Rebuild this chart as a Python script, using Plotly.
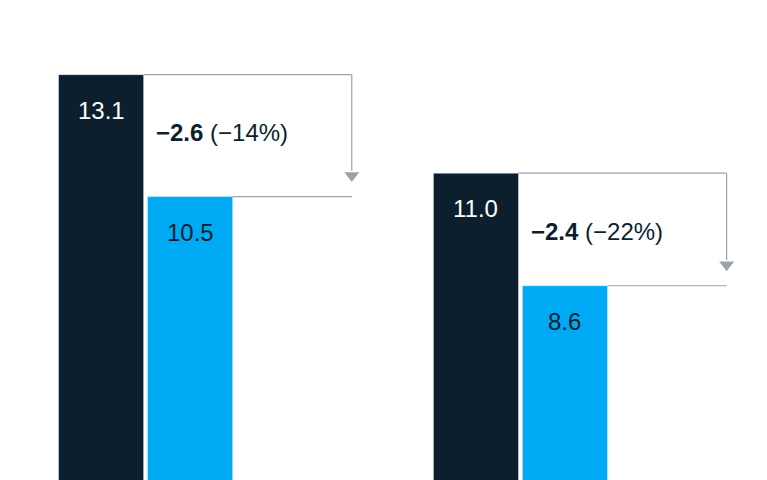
import plotly.graph_objects as go

groups = [0, 1]
before = [13.1, 11.0]
after = [10.5, 8.6]
delta = ["−2.6", "−2.4"]
pct = ["(−14%)", "(−22%)"]

DARK = "#0b1f2e"
BLUE = "#00a9f4"
GRAY = "#9aa3ad"
W = 0.227
OFF = 0.1187

fig = go.Figure()
fig.add_bar(x=[g - OFF for g in groups], y=before, width=W, marker_color=DARK, showlegend=False)
fig.add_bar(x=[g + OFF for g in groups], y=after, width=W, marker_color=BLUE, showlegend=False)

shapes, anns = [], []
for g, b, a, d, p in zip(groups, before, after, delta, pct):
    xr = g + 0.55
    shapes.append(dict(type="line", x0=g - OFF + W / 2, x1=xr, y0=b, y1=b, line=dict(color=GRAY, width=1.2)))
    shapes.append(dict(type="line", x0=g + OFF + W / 2, x1=xr, y0=a, y1=a, line=dict(color=GRAY, width=1.2)))
    shapes.append(dict(type="line", x0=xr, x1=xr, y0=b, y1=a + 0.55, line=dict(color=GRAY, width=1.2)))
    anns.append(dict(x=g - OFF, y=b, text=f"{b:.1f}", showarrow=False, yanchor="top", yshift=-20,
                     font=dict(color="white", size=24)))
    anns.append(dict(x=g + OFF, y=a, text=f"{a:.1f}", showarrow=False, yanchor="top", yshift=-20,
                     font=dict(color=DARK, size=24)))
    anns.append(dict(x=g + 0.023, y=b - 1.24, text=f"<b>{d}</b> {p}", showarrow=False,
                     xanchor="left", yanchor="middle", font=dict(color=DARK, size=24)))
fig.add_scatter(x=[g + 0.55 for g in groups], y=[a + 0.45 for a in after], mode="markers",
                marker=dict(symbol="triangle-down", size=13, color=GRAY), showlegend=False, hoverinfo="skip")

fig.update_layout(
    width=767, height=480, margin=dict(l=0, r=0, t=0, b=0),
    plot_bgcolor="white", paper_bgcolor="white",
    font=dict(family="Liberation Sans, Arial, sans-serif"),
    shapes=shapes, annotations=anns,
    xaxis=dict(range=[-0.367, 1.679], visible=False),
    yaxis=dict(range=[4.29, 14.52], visible=False),
)
fig.write_html("out.html")
